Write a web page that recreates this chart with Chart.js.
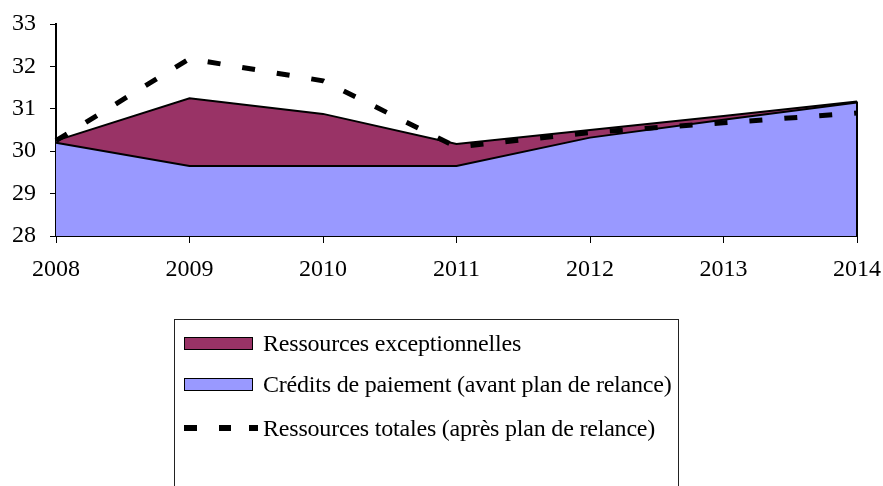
<!DOCTYPE html>
<html>
<head>
  <title>Ressources</title>
  <script src="https://cdn.jsdelivr.net/npm/chart.js"></script>
  <style>
    body { margin: 0; background: #fff; font-family: "Liberation Serif", "Times New Roman", serif; }
    #wrap { position: relative; width: 883px; height: 486px; overflow: hidden; }
    .legend {
      position: absolute; left: 174px; top: 319px; width: 505px; height: 200px;
      border: 1px solid #222; box-sizing: border-box;
    }
    .row { position: absolute; left: 9px; height: 24px; display: flex; align-items: center; font-size: 24px; color: #000; white-space: nowrap; letter-spacing: -0.2px; }
    .sw { width: 67px; height: 11px; border: 1.5px solid #000; margin-right: 10px; }
    .dash { width: 70px; height: 6px; margin-right: 9px; position: relative; }
    .dash i { position: absolute; top: 0; height: 6px; background: #000; }
  </style>
</head>
<body>
<div id="wrap">
  <canvas id="chart" width="883" height="486"></canvas>
  <div class="legend">
    <div class="row" style="top:11px"><span class="sw" style="background:#993366"></span>Ressources exceptionnelles</div>
    <div class="row" style="top:52px"><span class="sw" style="background:#9999FF"></span>Crédits de paiement (avant plan de relance)</div>
    <div class="row" style="top:96px"><span class="dash"><i style="left:0;width:13px"></i><i style="left:35px;width:12px"></i><i style="left:65px;width:9px"></i></span>Ressources totales (après plan de relance)</div>
  </div>
</div>

<script>
const years = ["2008", "2009", "2010", "2011", "2012", "2013", "2014"];
const credits = [30.2, 29.65, 29.65, 29.65, 30.32, 30.74, 31.15];
const exceptional = [0.05, 1.6, 1.23, 0.52, 0.18, 0.09, 0.02];
const totals = [30.25, 32.18, 31.66, 30.1, 30.44, 30.67, 30.9];

const font = { family: '"Liberation Serif", "Times New Roman", serif', size: 24 };

// vertical border at the right end of the area, like the original
const edgeLine = {
  id: 'edgeLine',
  afterDatasetsDraw(chart) {
    const meta = chart.getDatasetMeta(1);
    const pt = meta.data[meta.data.length - 1];
    const ctx = chart.ctx;
    ctx.save();
    ctx.strokeStyle = '#000';
    ctx.lineWidth = 2;
    ctx.beginPath();
    ctx.moveTo(pt.x, pt.y);
    ctx.lineTo(pt.x, chart.chartArea.bottom);
    ctx.stroke();
    ctx.restore();
  }
};

new Chart(document.getElementById("chart"), {
  type: 'line',
  data: {
    labels: years,
    datasets: [
      {
        label: 'Crédits de paiement (avant plan de relance)',
        data: credits, stack: 'area', order: 2,
        backgroundColor: '#9999FF', borderColor: '#000', borderWidth: 2,
        fill: 'origin', pointRadius: 0, tension: 0
      },
      {
        label: 'Ressources exceptionnelles',
        data: exceptional, stack: 'area', order: 2,
        backgroundColor: '#993366', borderColor: '#000', borderWidth: 2,
        fill: '-1', pointRadius: 0, tension: 0
      },
      {
        label: 'Ressources totales (après plan de relance)',
        data: totals, stack: 'line', order: 1,
        borderColor: '#000', borderWidth: 5, borderDash: [13, 22],
        fill: false, pointRadius: 0, tension: 0
      }
    ]
  },
  options: {
    responsive: false,
    animation: false,
    layout: { padding: { top: 24, right: 26, left: 0, bottom: 0 } },
    plugins: { legend: { display: false }, tooltip: { enabled: false } },
    scales: {
      x: {
        offset: false,
        grid: { display: true, drawOnChartArea: false, drawTicks: true, tickLength: 7, color: '#000' },
        border: { color: '#000', width: 2 },
        ticks: { color: '#000', font: font, padding: 12, maxRotation: 0 },
        afterFit(axis) { axis.height = 250; axis.paddingLeft = 0; axis.paddingRight = 0; }
      },
      y: {
        stacked: true,
        min: 28, max: 33,
        grid: { display: true, drawOnChartArea: false, drawTicks: true, tickLength: 6, color: '#000' },
        border: { color: '#000', width: 2 },
        ticks: { color: '#000', font: font, stepSize: 1, padding: 14 },
        afterFit(axis) { axis.width = 56; axis.paddingTop = 0; axis.paddingBottom = 0; }
      }
    }
  },
  plugins: [edgeLine]
});
</script>
</body>
</html>
